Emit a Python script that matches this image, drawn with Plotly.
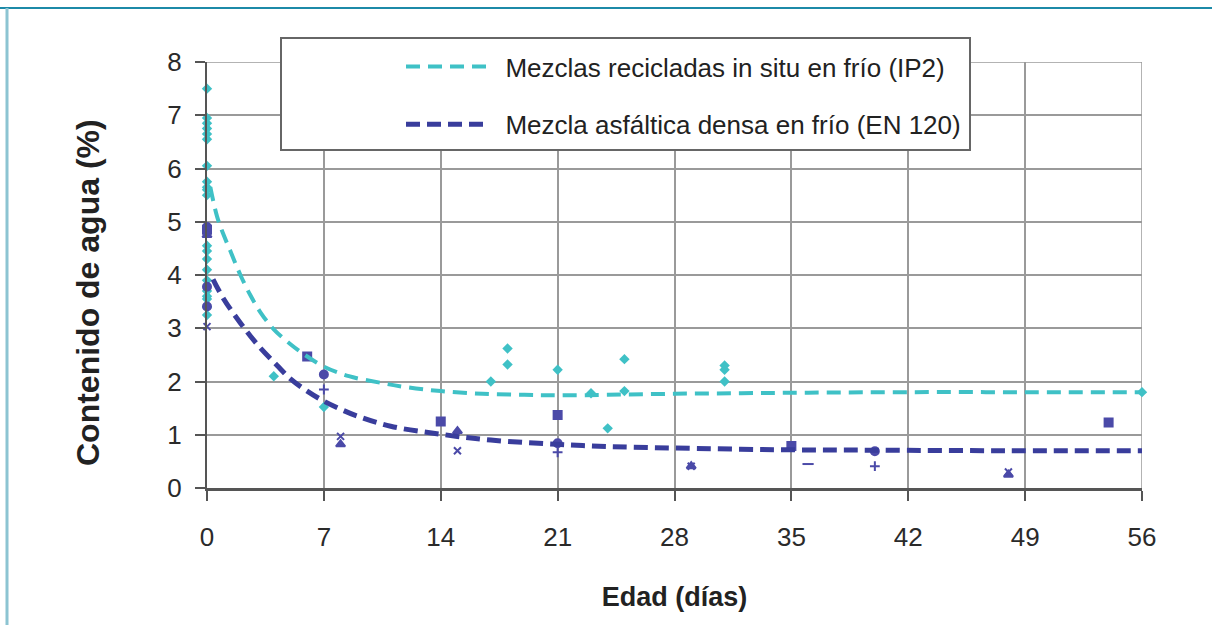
import plotly.graph_objects as go

# ---- data ----
x_ticks = [0, 7, 14, 21, 28, 35, 42, 49, 56]
y_ticks = [0, 1, 2, 3, 4, 5, 6, 7, 8]

# fitted curves
ip2_curve_x = [0.2, 0.6, 1.0, 1.4, 2.0, 2.6, 3.2, 4.0, 5.0, 6.0, 7.0, 8.5, 10.5, 12.0, 14.0, 16.5, 19.0, 21.0, 24.0, 28.0, 32.0, 36.0, 42.0, 49.0, 56.0]
ip2_curve_y = [5.65, 5.10, 4.75, 4.45, 4.00, 3.62, 3.30, 2.98, 2.70, 2.47, 2.28, 2.10, 1.97, 1.89, 1.82, 1.77, 1.75, 1.74, 1.75, 1.77, 1.78, 1.79, 1.80, 1.80, 1.80]
en120_curve_x = [0.36, 1.0, 2.0, 3.0, 4.2, 5.0, 6.0, 7.0, 8.0, 9.0, 11.0, 14.0, 17.0, 21.0, 24.0, 28.0, 34.0, 40.0, 48.0, 56.0]
en120_curve_y = [3.92, 3.55, 3.10, 2.70, 2.30, 2.05, 1.82, 1.63, 1.48, 1.35, 1.16, 1.01, 0.90, 0.82, 0.78, 0.75, 0.72, 0.71, 0.70, 0.70]

# IP2 measured points (diamonds)
ip2_pts_x = [0, 0, 0, 0, 0, 0, 0, 0, 0, 0, 0, 0, 0, 0, 0, 0, 0, 0, 0, 0, 0,
             4, 7, 17, 18, 18, 21, 23, 24, 25, 25, 31, 31, 31, 56]
ip2_pts_y = [7.5, 6.95, 6.85, 6.75, 6.65, 6.55, 6.05, 5.75, 5.6, 5.5, 4.55, 4.3, 4.1, 3.9, 3.7, 3.55, 3.4, 3.25, 3.6, 4.45, 5.65,
             2.1, 1.52, 2.0, 2.62, 2.32, 2.22, 1.78, 1.12, 2.42, 1.82, 2.3, 2.22, 2.0, 1.8]

# EN 120 measured points, by marker
en_sq_x = [0, 6, 14, 21, 35, 54]
en_sq_y = [4.85, 2.47, 1.25, 1.37, 0.79, 1.23]
en_ci_x = [0, 0, 0, 7, 21, 40]
en_ci_y = [4.9, 3.78, 3.41, 2.13, 0.84, 0.69]
en_tr_x = [0, 8, 15, 29, 48]
en_tr_y = [4.75, 0.82, 1.07, 0.41, 0.25]
en_xx_x = [0, 8, 15, 29, 48]
en_xx_y = [3.03, 0.97, 0.70, 0.41, 0.30]
en_pl_x = [7, 21, 40]
en_pl_y = [1.85, 0.67, 0.41]
en_da_x = [36]
en_da_y = [0.45]

CYAN = "#3fc1c6"
NAVY = "#393d9c"
PURP = "#4b4aa8"

fig = go.Figure()

fig.add_trace(go.Scatter(x=ip2_pts_x, y=ip2_pts_y, mode="markers", showlegend=False,
                         marker=dict(symbol="diamond", size=8, color=CYAN), cliponaxis=False))
for xs, ys, sym, sz in [(en_sq_x, en_sq_y, "square", 8), (en_ci_x, en_ci_y, "circle", 8),
                        (en_tr_x, en_tr_y, "triangle-up", 8), (en_xx_x, en_xx_y, "x-thin", 7),
                        (en_pl_x, en_pl_y, "cross-thin", 7), (en_da_x, en_da_y, "line-ew", 8)]:
    fig.add_trace(go.Scatter(x=xs, y=ys, mode="markers", showlegend=False, cliponaxis=False,
                             marker=dict(symbol=sym, size=sz, color=PURP,
                                         line=dict(color=PURP, width=2))))

fig.add_trace(go.Scatter(x=ip2_curve_x, y=ip2_curve_y, mode="lines", line_shape="spline",
                         name="\u00a0\u00a0Mezclas recicladas in situ en frío (IP2)", legendgroup="a",
                         line=dict(color=CYAN, width=4, dash="14px,8px"), cliponaxis=False))
fig.add_trace(go.Scatter(x=en120_curve_x, y=en120_curve_y, mode="lines", line_shape="spline",
                         name="\u00a0\u00a0Mezcla asfáltica densa en frío (EN 120)", legendgroup="b",
                         line=dict(color=NAVY, width=5, dash="14px,7px"), cliponaxis=False))

L, R, T, B = 207, 70, 62, 137
PW, PH = 1212 - L - R, 625 - T - B

def px(xp):
    return (xp - L) / PW

def py(yp):
    return (625 - B - yp) / PH

fig.update_layout(
    width=1212, height=625,
    margin=dict(l=L, r=R, t=T, b=B, autoexpand=False),
    paper_bgcolor="white", plot_bgcolor="white",
    font=dict(family="Liberation Sans, Arial, sans-serif", size=26, color="#2a2a2a"),
    xaxis=dict(range=[0, 56], tickvals=x_ticks, ticktext=[str(v) for v in x_ticks],
               showgrid=True, gridcolor="#9a9a9a", gridwidth=1.5,
               showline=True, linecolor="#555555", linewidth=3,
               ticks="outside", ticklen=10, tickcolor="#555555", tickwidth=1.5,
               ticklabelstandoff=14, zeroline=False,
               title=dict(text="<b>Edad (días)</b>", font=dict(size=27, color="#222"), standoff=36)),
    yaxis=dict(range=[0, 8], tickvals=y_ticks, ticktext=[str(v) for v in y_ticks],
               showgrid=True, gridcolor="#9a9a9a", gridwidth=1.5,
               showline=True, linecolor="#555555", linewidth=2,
               ticks="outside", ticklen=10, tickcolor="#555555", tickwidth=1.5,
               ticklabelstandoff=8, zeroline=False),
    annotations=[dict(text="<b>Contenido de agua (%)</b>", xref="paper", yref="paper",
                      x=px(88), y=py(293), textangle=-90, showarrow=False,
                      xanchor="center", yanchor="middle",
                      font=dict(size=32, color="#222"))],
    legend=dict(x=px(401), y=py(43), xanchor="left", yanchor="top",
                bgcolor="rgba(0,0,0,0)", borderwidth=0, traceorder="grouped",
                tracegroupgap=21, itemwidth=80, font=dict(size=26, color="#222")),
    shapes=[
        dict(type="rect", xref="paper", yref="paper", x0=px(281), x1=px(970), y0=py(150), y1=py(38),
             fillcolor="white", line=dict(color="#666666", width=2), layer="above"),
        dict(type="line", xref="paper", yref="paper", x0=px(0), x1=px(1240), y0=py(8), y1=py(8),
             line=dict(color="#1c8aa8", width=2)),
        dict(type="line", xref="paper", yref="paper", x0=px(7), x1=px(7), y0=py(8), y1=py(640),
             line=dict(color="#8cc4d2", width=3)),
        dict(type="line", xref="x", yref="y", x0=56, x1=56, y0=0, y1=8,
             line=dict(color="#9a9a9a", width=1.5), layer="below"),
        dict(type="line", xref="x", yref="y", x0=0, x1=56, y0=8, y1=8,
             line=dict(color="#9a9a9a", width=1.5), layer="below"),
    ],
)

fig.write_html("out.html", config={"displayModeBar": False},
               post_script="document.body.style.margin='0';")
